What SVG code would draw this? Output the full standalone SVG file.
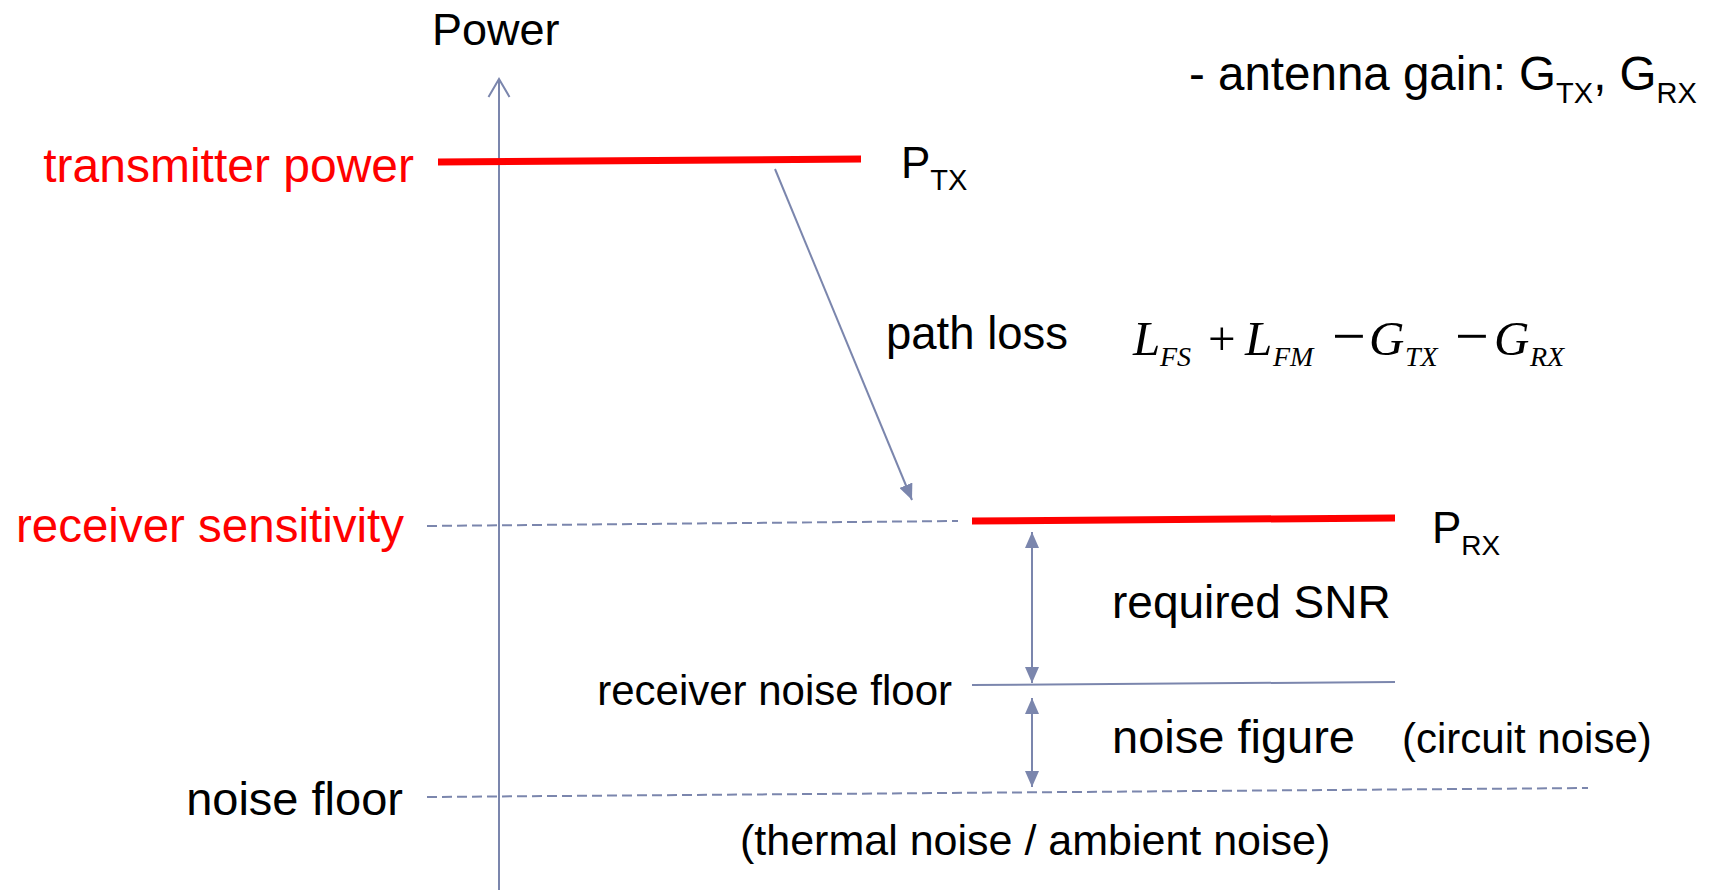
<svg xmlns="http://www.w3.org/2000/svg" width="1717" height="891" viewBox="0 0 1717 891">
<style>
  text { font-family: "Liberation Sans", Arial, sans-serif; fill: #000; }
  .red { fill: #ff0000; }
  .math { font-family: "Liberation Serif", "Times New Roman", serif; font-style: italic; }
  .op { font-family: "Liberation Serif", "Times New Roman", serif; font-style: normal; }
  .lvl { stroke: #ff0000; stroke-width: 7; fill: none; }
  .thin { stroke: #7b86ad; stroke-width: 2; fill: none; }
  .dash { stroke: #7b86ad; stroke-width: 2; fill: none; stroke-dasharray: 10 5; }
  .conn { stroke: #7b86ad; stroke-width: 2; fill: none; }
</style>
<defs>
  <marker id="tri" viewBox="0 0 16 14" refX="16" refY="7" markerWidth="16" markerHeight="14" orient="auto-start-reverse" markerUnits="userSpaceOnUse">
    <path d="M0,0 L16,7 L0,14 z" fill="#7b86ad"/>
  </marker>
</defs>
<rect width="1717" height="891" fill="#fff"/>

<g id="axis">
  <line class="thin" x1="499" y1="890" x2="499" y2="80"/>
  <polyline class="thin" points="488.5,97 499,79 509.5,97"/>
  <text x="432" y="45" font-size="45">Power</text>
</g>

<g id="antenna-gain">
  <text x="1189" y="90" font-size="47.5">- antenna gain: G<tspan font-size="29" dy="13">TX</tspan><tspan dy="-13">, G</tspan><tspan font-size="29" dy="13">RX</tspan></text>
</g>

<g id="transmitter-power">
  <line class="lvl" x1="438" y1="162" x2="861" y2="159"/>
  <text class="red" x="414" y="182" font-size="48" text-anchor="end">transmitter power</text>
  <text x="901" y="178" font-size="44">P<tspan font-size="29" dy="12">TX</tspan></text>
</g>

<g id="path-loss">
  <text x="886" y="349" font-size="45.5">path loss</text>
  <text font-size="49">
    <tspan class="math" x="1133" y="355">L</tspan>
    <tspan class="math" x="1160" y="366" font-size="28">FS</tspan>
    <tspan class="op" x="1208" y="355">+</tspan>
    <tspan class="math" x="1245" y="355">L</tspan>
    <tspan class="math" x="1273" y="366" font-size="28">FM</tspan>
    <tspan class="op" x="1332" y="356" font-size="60">−</tspan>
    <tspan class="math" x="1369" y="355">G</tspan>
    <tspan class="math" x="1405" y="366" font-size="28">TX</tspan>
    <tspan class="op" x="1455" y="356" font-size="60">−</tspan>
    <tspan class="math" x="1494" y="355">G</tspan>
    <tspan class="math" x="1530" y="366" font-size="28">RX</tspan>
  </text>
</g>

<g id="receiver-sensitivity">
  <line class="dash" x1="427" y1="526" x2="958" y2="521"/>
  <line class="lvl" x1="972" y1="521" x2="1395" y2="518"/>
  <text class="red" x="404" y="542" font-size="47.5" text-anchor="end">receiver sensitivity</text>
  <text x="1432" y="543" font-size="44">P<tspan font-size="28" dy="12">RX</tspan></text>
</g>

<g id="required-snr">
  <text x="1112" y="618" font-size="46">required SNR</text>
</g>

<g id="receiver-noise-floor">
  <line class="thin" x1="972" y1="685" x2="1395" y2="682"/>
  <text x="952" y="705" font-size="42" text-anchor="end">receiver noise floor</text>
</g>

<g id="noise-figure">
  <text x="1112" y="753" font-size="47">noise figure</text>
  <text x="1402" y="753" font-size="42">(circuit noise)</text>
</g>

<g id="noise-floor">
  <line class="dash" x1="427" y1="797" x2="1588" y2="788"/>
  <text x="403" y="815" font-size="47" text-anchor="end">noise floor</text>
  <text x="740" y="855" font-size="43">(thermal noise / ambient noise)</text>
</g>

<g id="connectors">
  <line class="conn" x1="775" y1="169" x2="912" y2="500" marker-end="url(#tri)"/>
  <line class="conn" x1="1032" y1="532" x2="1032" y2="683" marker-start="url(#tri)" marker-end="url(#tri)"/>
  <line class="conn" x1="1032" y1="698" x2="1032" y2="787" marker-start="url(#tri)" marker-end="url(#tri)"/>
</g>
</svg>
